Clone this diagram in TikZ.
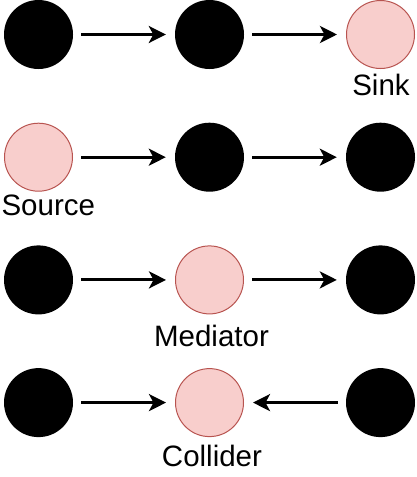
\documentclass[tikz,border=0pt]{standalone}
\usepackage{fontspec}
\setmainfont{Liberation Sans}
\usetikzlibrary{positioning,arrows.meta}

\definecolor{pinkfill}{HTML}{F8CECC}
\definecolor{pinkline}{HTML}{B85450}

\tikzstyle{dot} = [circle, fill = black, inner sep = 0pt, minimum size = 69pt]
\tikzstyle{hit} = [circle, fill = pinkfill, draw = pinkline, line width = 1pt, inner sep = 0pt, minimum size = 68pt]
\tikzstyle{tag} = [inner sep = 0pt, font = \fontsize{29.5}{35}\selectfont]
\tikzstyle{arrow} = [line width = 3pt, -{Stealth[length = 17pt, width = 17pt, inset = 4.5pt]}, shorten <= 8pt, shorten >= 9pt]

\begin{document}
\begin{tikzpicture}
    [x = 1pt, y = 1pt, on grid, node distance = 122.7pt and 171pt]
  \useasboundingbox (0,0) rectangle (416,-477);
  \node[dot] (A) at (38.5,-34.5) {};
  \node[dot, right=of A] (B) {};
  \node[hit, right=of B] (C) {};
  \node[hit, below=of A] (D) {};
  \node[dot, right=of D] (E) {};
  \node[dot, right=of E] (F) {};
  \node[dot, below=of D] (G) {};
  \node[hit, right=of G] (H) {};
  \node[dot, right=of H] (I) {};
  \node[dot, below=of G] (J) {};
  \node[hit, right=of J] (K) {};
  \node[dot, right=of K] (L) {};
  \node[tag, below=50.8pt of C, xshift=0.5pt] (sink) {Sink};
  \node[tag, below=48pt of D, xshift=9.8pt] (source) {Source};
  \node[tag, below=56pt of H, xshift=2pt] (mediator) {Mediator};
  \node[tag, below=53.7pt of K, xshift=2.5pt] (collider) {Collider};
  \draw [arrow] (A) -- (B);
  \draw [arrow] (B) -- (C);
  \draw [arrow] (D) -- (E);
  \draw [arrow] (E) -- (F);
  \draw [arrow] (G) -- (H);
  \draw [arrow] (H) -- (I);
  \draw [arrow] (J) -- (K);
  \draw [arrow] (L) -- (K);
\end{tikzpicture}
\end{document}
